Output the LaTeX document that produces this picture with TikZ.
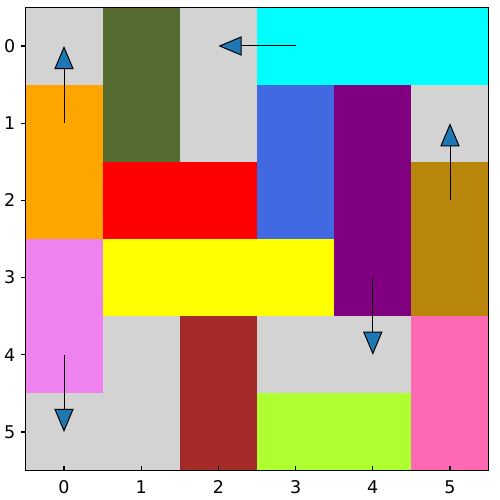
\documentclass[tikz,border=0pt]{standalone}
\usepackage{fontspec}
\setmainfont{DejaVu Sans}
\usetikzlibrary{arrows.meta}
\definecolor{lgray}{HTML}{D3D3D3}
\definecolor{dolive}{HTML}{556B2F}
\definecolor{cyanc}{HTML}{00FFFF}
\definecolor{redc}{HTML}{FF0000}
\definecolor{yellowc}{HTML}{FFFF00}
\definecolor{rblue}{HTML}{4169E1}
\definecolor{dgold}{HTML}{B8860B}
\definecolor{violetc}{HTML}{EE82EE}
\definecolor{brownc}{HTML}{A52A2A}
\definecolor{gyellow}{HTML}{ADFF2F}
\definecolor{hpink}{HTML}{FF69B4}
\definecolor{purplec}{HTML}{800080}
\definecolor{orangec}{HTML}{FFA500}
\definecolor{mplblue}{HTML}{1F77B4}
\tikzset{
  block/.style={rectangle, inner sep=0pt, outer sep=0pt, draw=none, fill=#1},
  mvarrow/.style={draw=black, line width=1pt,
    -{Triangle[length=23.2pt, width=19.3pt, fill=mplblue, line width=1pt]}},
  ticklab/.style={font=\fontsize{17.5}{19}\selectfont, inner sep=0pt},
  tickmark/.style={line width=1.1pt}
}
\begin{document}
\begin{tikzpicture}
\useasboundingbox (0pt,0pt) rectangle (500pt,-500pt);
\begin{scope}[shift={(64pt,-46pt)}, x=77.2pt, y=-77.2pt]
  \node[block=lgray, minimum width=463.2pt, minimum height=463.2pt] (bg) at (2.5,2.5) {};
  \node[block=dolive, minimum width=77.2pt, minimum height=154.4pt] (b1) at (1,0.5) {};
  \node[block=cyanc, minimum width=231.6pt, minimum height=77.2pt] (b2) at (4,0) {};
  \node[block=orangec, minimum width=77.2pt, minimum height=154.4pt] (b3) at (0,1.5) {};
  \node[block=rblue, minimum width=77.2pt, minimum height=154.4pt] (b4) at (3,1.5) {};
  \node[block=purplec, minimum width=77.2pt, minimum height=231.6pt] (b5) at (4,2) {};
  \node[block=redc, minimum width=154.4pt, minimum height=77.2pt] (b6) at (1.5,2) {};
  \node[block=dgold, minimum width=77.2pt, minimum height=154.4pt] (b7) at (5,2.5) {};
  \node[block=violetc, minimum width=77.2pt, minimum height=154.4pt] (b8) at (0,3.5) {};
  \node[block=yellowc, minimum width=231.6pt, minimum height=77.2pt] (b9) at (2,3) {};
  \node[block=brownc, minimum width=77.2pt, minimum height=154.4pt] (b10) at (2,4.5) {};
  \node[block=gyellow, minimum width=154.4pt, minimum height=77.2pt] (b11) at (3.5,5) {};
  \node[block=hpink, minimum width=77.2pt, minimum height=154.4pt] (b12) at (5,4.5) {};
  % arrows
  \coordinate (a1s) at (0,1); \coordinate (a1e) at (0,0);
  \coordinate (a2s) at (3,0); \coordinate (a2e) at (2,0);
  \coordinate (a3s) at (5,2); \coordinate (a3e) at (5,1);
  \coordinate (a4s) at (4,3); \coordinate (a4e) at (4,4);
  \coordinate (a5s) at (0,4); \coordinate (a5e) at (0,5);
  \draw[mvarrow] (a1s) -- (a1e);
  \draw[mvarrow] (a2s) -- (a2e);
  \draw[mvarrow] (a3s) -- (a3e);
  \draw[mvarrow] (a4s) -- (a4e);
  \draw[mvarrow] (a5s) -- (a5e);
  % frame
  \draw[line width=1.1pt] (bg.south west) rectangle (bg.north east);
  % ticks
  \foreach \i in {0,...,5} {
    \draw[tickmark] (\i,5.5) -- ++(0,4.9pt);
    \node[ticklab, anchor=north] (xl\i) at ([yshift=-10pt]\i,5.5) {\i};
    \draw[tickmark] (-0.5,\i) -- ++(-4.9pt,0);
    \node[ticklab, anchor=east] (yl\i) at ([xshift=-10pt]-0.5,\i) {\i};
  }
\end{scope}
\end{tikzpicture}
\end{document}
